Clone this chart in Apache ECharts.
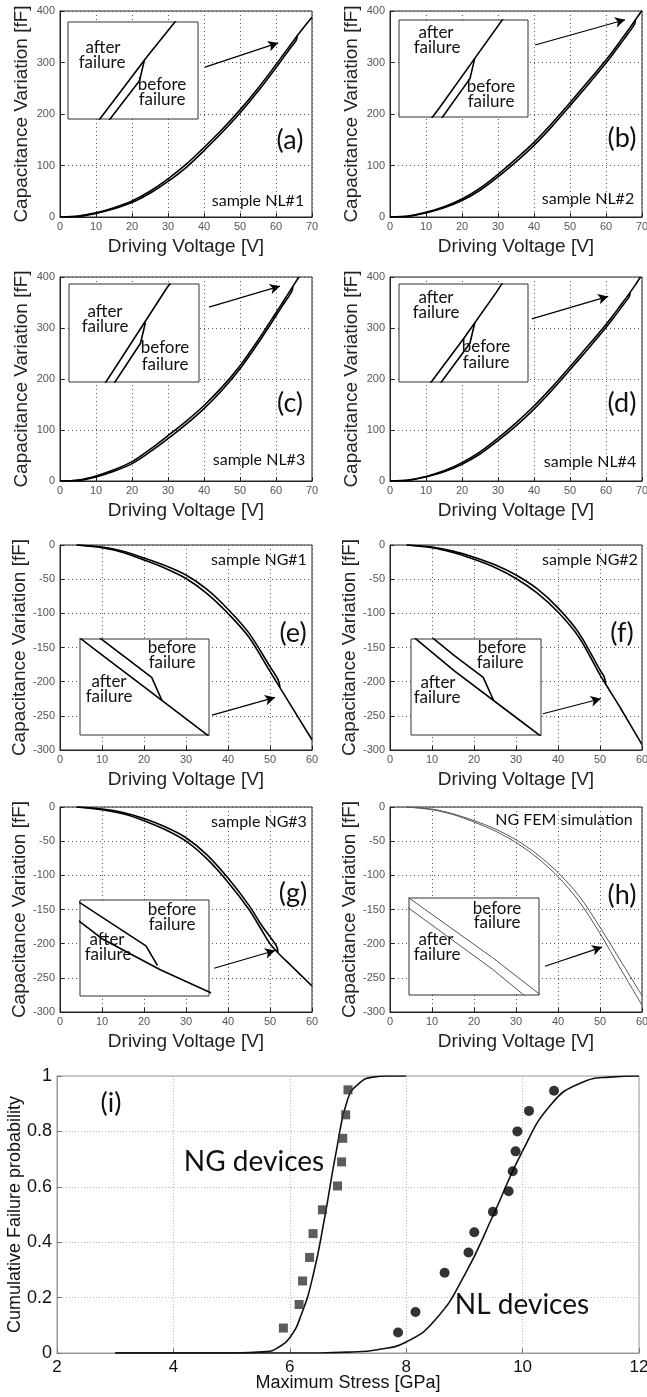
<!DOCTYPE html>
<html><head><meta charset="utf-8">
<script src="https://cdn.jsdelivr.net/npm/echarts@6/dist/echarts.min.js"></script>
<style>html,body{margin:0;padding:0;background:#fff}#c{width:647px;height:1397px}</style>
</head><body><div id="c"></div>
<script>
// ---------------- DATA ([V, fF] pairs) ----------------
const nl1After  = [[0,0],[5,2],[10,8],[15,18],[20,31],[25,50],[30,74],[35,102],[40,135],[45,170],[50,208],[55,250],[60,296],[62,315],[64,334],[66,353],[68,371],[70,388]];
const nl1Before = [[0,0],[5,1],[10,7],[15,16],[20,28],[25,46],[30,69],[35,96],[40,129],[45,164],[50,202],[55,244],[60,290],[62,309],[64,328],[65.6,343],[65.9,352]];
const nl2After  = [[0,0],[5,2],[10,9],[15,20],[20,35],[25,56],[30,83],[35,113],[40,145],[45,182],[50,222],[55,263],[60,305],[62,323],[64,342],[66,361],[68,381],[70,401]];
const nl2Before = [[0,0],[5,1],[10,8],[15,18],[20,32],[25,52],[30,78],[35,107],[40,139],[45,176],[50,216],[55,257],[60,299],[62,317],[64,336],[66,355],[67.9,374],[68.2,383]];
const nl3After  = [[0,0],[5,2],[10,10],[15,22],[20,38],[25,62],[30,89],[35,117],[40,148],[45,184],[50,226],[55,276],[60,330],[62,352],[64,374],[66,396],[66.4,400]];
const nl3Before = [[0,0],[5,1],[10,8],[15,19],[20,34],[25,57],[30,83],[35,111],[40,142],[45,178],[50,220],[55,270],[60,324],[62,346],[64.4,372],[64.7,381]];
const nl4After  = [[0,0],[5,2],[10,9],[15,20],[20,36],[25,57],[30,84],[35,114],[40,147],[45,184],[50,224],[55,265],[60,307],[62,325],[64,344],[66,363],[68,383],[69.6,400]];
const nl4Before = [[0,0],[5,1],[10,8],[15,18],[20,33],[25,53],[30,79],[35,108],[40,141],[45,178],[50,218],[55,259],[60,301],[62,319],[64,338],[66.4,361],[66.7,370]];
const ng1After  = [[4,0],[10,-4],[15,-11],[20,-22],[25,-34],[30,-49],[35,-71],[40,-100],[45,-135],[50,-185],[52,-205],[55,-235],[60,-285]];
const ng1Before = [[4,0],[10,-3],[15,-9],[20,-19],[25,-30],[30,-44],[35,-65],[40,-94],[45,-129],[50,-178],[52,-198],[52.36,-208.6]];
const ng2After  = [[4,0],[10,-4],[15,-11],[20,-21],[25,-33],[30,-49],[35,-70],[40,-98],[45,-135],[50,-190],[52,-210],[55,-240],[60,-292]];
const ng2Before = [[4,0],[10,-3],[15,-9],[20,-18],[25,-29],[30,-44],[35,-64],[40,-92],[45,-129],[50,-183],[51,-193],[51.36,-203.6]];
const ng3After  = [[4,0],[10,-4],[15,-10],[20,-20],[25,-33],[30,-50],[35,-76],[40,-110],[45,-150],[48,-180],[50,-200],[52,-214],[55,-232],[60,-262]];
const ng3Before = [[4,0],[10,-3],[15,-8],[20,-17],[25,-29],[30,-45],[35,-70],[40,-104],[45,-144],[48,-173],[51.5,-203],[51.9,-212]];
const femAfter  = [[4,0],[10,-4],[15,-11],[20,-22],[25,-35],[30,-52],[35,-74],[40,-102],[45,-138],[50,-185],[55,-238],[60,-290]];
const femBefore = [[4,0],[10,-3],[15,-10],[20,-20],[25,-32],[30,-48],[35,-69],[40,-96],[45,-130],[50,-176],[55,-226],[60,-276]];

// panel (i): Weibull data and fitted curves
const ngStress = [5.89, 6.16, 6.22, 6.34, 6.40, 6.56, 6.82, 6.89, 6.91, 6.96, 7.00];
const ngProb   = [0.09, 0.175, 0.26, 0.345, 0.431, 0.517, 0.603, 0.69, 0.775, 0.86, 0.95];
const nlStress = [7.86, 8.16, 8.66, 9.07, 9.17, 9.49, 9.76, 9.83, 9.88, 9.91, 10.11, 10.54];
const nlProb   = [0.074, 0.148, 0.29, 0.363, 0.436, 0.51, 0.584, 0.656, 0.728, 0.80, 0.874, 0.947];
const ngFitStress = [3, 5.0, 5.6, 5.8, 6.0, 6.2, 6.4, 6.6, 6.8, 7.0, 7.2, 7.4, 7.7, 8.0];
const ngFitProb   = [0, 0, 0.005, 0.02, 0.055, 0.14, 0.28, 0.49, 0.73, 0.92, 0.975, 0.995, 1, 1];
const nlFitStress = [3, 6.5, 7.0, 7.5, 8.0, 8.5, 9.0, 9.5, 10.0, 10.5, 11.0, 11.5, 12];
const nlFitProb   = [0, 0, 0.003, 0.012, 0.04, 0.12, 0.28, 0.5, 0.73, 0.9, 0.975, 0.996, 1];

// ---------------- LAYOUT ----------------
const tickFont = "'Liberation Sans Narrow','Liberation Sans',Arial,sans-serif";
const nameFont = "'Liberation Sans',Arial,sans-serif";
const noteFont = "Lato,'Open Sans',sans-serif";

const panels = [
 {after:nl1After, before:nl1Before, rect:[60,11,252,206], xr:[0,70,10], yr:[0,400,100],
  inset:[68,22,130,97], ix:[61.2,69.2], iy:[326,369], arrow:[[40.3,291],[60.6,338]],
  tag:'(a)', tagPos:[290,140], note:'sample NL#1', notePos:[258,201],
  texts:[['after',103,48],['failure',102,63],['before',162,85],['failure',162,100]]},
 {after:nl2After, before:nl2Before, rect:[390,11,252,206], xr:[0,70,10], yr:[0,400,100],
  inset:[399,20,129,97], ix:[63.5,71.5], iy:[357,400], arrow:[[40.3,334],[65.3,383]],
  tag:'(b)', tagPos:[622,138], note:'sample NL#2', notePos:[588,199],
  texts:[['after',436,33],['failure',437,48],['before',491,87],['failure',491,102]]},
 {after:nl3After, before:nl3Before, rect:[60,277,252,204], xr:[0,70,10], yr:[0,400,100],
  inset:[69,284,130,98], ix:[60,68], iy:[355,398], arrow:[[41.4,341],[61.1,382]],
  tag:'(c)', tagPos:[290,403], note:'sample NL#3', notePos:[259,460],
  texts:[['after',105,312],['failure',105,327],['before',165,348],['failure',165,365]]},
 {after:nl4After, before:nl4Before, rect:[390,277,252,204], xr:[0,70,10], yr:[0,400,100],
  inset:[399,284,129,98], ix:[62,70], iy:[344,387], arrow:[[39.4,318],[60.6,362]],
  tag:'(d)', tagPos:[622,403], note:'sample NL#4', notePos:[590,462],
  texts:[['after',436,298],['failure',436,313],['before',486,347],['failure',486,363]]},
 {after:ng1After, before:ng1Before, rect:[60,545,252,205], xr:[0,60,10], yr:[-300,0,50],
  inset:[80,639,129,96], ix:[49.5,54], iy:[-224.4,-180.4], arrow:[[36.2,-249],[51.2,-223]],
  tag:'(e)', tagPos:[293,633], note:'sample NG#1', notePos:[259,560],
  texts:[['before',172,648],['failure',172,663],['after',109,682],['failure',109,697]]},
 {after:ng2After, before:ng2Before, rect:[390,545,252,205], xr:[0,60,10], yr:[-300,0,50],
  inset:[411,639,130,96], ix:[48.5,53], iy:[-219.4,-175.4], arrow:[[36.4,-247],[50.2,-225]],
  tag:'(f)', tagPos:[622,633], note:'sample NG#2', notePos:[590,560],
  texts:[['before',502,648],['failure',500,663],['after',438,683],['failure',437,698]]},
 {after:ng3After, before:ng3Before, rect:[60,807,252,205], xr:[0,60,10], yr:[-300,0,50],
  inset:[80,900,129,96], ix:[49.2,53.7], iy:[-226,-182], arrow:[[36.7,-236],[51.2,-210]],
  tag:'(g)', tagPos:[293,893], note:'sample NG#3', notePos:[259,822],
  texts:[['before',172,910],['failure',172,925],['after',107,940],['failure',108,955]]},
 {after:femAfter, before:femBefore, rect:[390,807,252,205], xr:[0,60,10], yr:[-300,0,50],
  inset:[409,898,130,97], ix:[45,52.8], iy:[-205,-130], arrow:[[36.9,-233],[50.5,-205]],
  tag:'(h)', tagPos:[622,895], note:'NG FEM simulation', notePos:[564,820], thin:true,
  texts:[['before',497,909],['failure',497,923],['after',436,940],['failure',437,955]]}
];

const grids=[], xAxes=[], yAxes=[], series=[], graphics=[];
function txt(t,x,y,size,family,color){
  graphics.push({type:'text', x:x, y:y, z:10, silent:true,
    style:{text:t, fontSize:size, fontFamily:family, fill:color||'#111', align:'center', verticalAlign:'middle'}});
}
panels.forEach(p=>{
  const gi = grids.length;
  grids.push({left:p.rect[0], top:p.rect[1], width:p.rect[2], height:p.rect[3], show:true,
    borderColor:'#222', borderWidth:1, containLabel:false, outerBoundsMode:'none'});
  xAxes.push({gridIndex:gi, type:'value', min:p.xr[0], max:p.xr[1], interval:p.xr[2],
    name:'Driving Voltage [V]', nameLocation:'middle', nameGap:20,
    nameTextStyle:{fontFamily:nameFont, fontSize:19, color:'#222'},
    axisLine:{show:true, onZero:false, lineStyle:{color:'#222', width:1}},
    axisTick:{show:true, inside:true, length:4, lineStyle:{color:'#222'}},
    axisLabel:{fontFamily:tickFont, fontSize:11, color:'#555', margin:4, showMinLabel:true, showMaxLabel:true},
    splitLine:{show:true, lineStyle:{type:[1,3], color:'#555', width:1}}});
  yAxes.push({gridIndex:gi, type:'value', min:p.yr[0], max:p.yr[1], interval:p.yr[2],
    name:'Capacitance Variation [fF]', nameLocation:'middle', nameGap:29, nameRotate:90,
    nameTextStyle:{fontFamily:nameFont, fontSize:19, color:'#222'},
    axisLine:{show:true, onZero:false, lineStyle:{color:'#222', width:1}},
    axisTick:{show:true, inside:true, length:4, lineStyle:{color:'#222'}},
    axisLabel:{fontFamily:tickFont, fontSize:11, color:'#555', margin:5, showMinLabel:true, showMaxLabel:true},
    splitLine:{show:true, lineStyle:{type:[1,3], color:'#555', width:1}}});
  const ii = grids.length;
  grids.push({left:p.inset[0], top:p.inset[1], width:p.inset[2], height:p.inset[3], show:true,
    borderColor:'#333', borderWidth:1, backgroundColor:'#fff', z:1, containLabel:false, outerBoundsMode:'none'});
  xAxes.push({gridIndex:ii, type:'value', min:p.ix[0], max:p.ix[1], show:false});
  yAxes.push({gridIndex:ii, type:'value', min:p.iy[0], max:p.iy[1], show:false});
  const col = p.thin ? '#555' : '#000';
  const w = p.thin ? 1 : 1.6;
  const base = {type:'line', symbol:'none', silent:true, animation:false, clip:true};
  series.push(Object.assign({}, base, {xAxisIndex:gi, yAxisIndex:gi, data:p.after, z:2, smooth:0.3,
    lineStyle:{color:col, width:w},
    markLine:{silent:true, animation:false, symbol:['none','arrow'], symbolSize:[8,10],
      lineStyle:{color:'#000', width:1.2, type:'solid'}, label:{show:false},
      data:[[{coord:p.arrow[0]},{coord:p.arrow[1]}]]}}));
  series.push(Object.assign({}, base, {xAxisIndex:gi, yAxisIndex:gi, data:p.before, z:2, smooth:0.3, lineStyle:{color:col, width:w}}));
  series.push(Object.assign({}, base, {xAxisIndex:ii, yAxisIndex:ii, data:p.after, z:4, lineStyle:{color:col, width:w}}));
  series.push(Object.assign({}, base, {xAxisIndex:ii, yAxisIndex:ii, data:p.before, z:4, lineStyle:{color:col, width:w}}));
  txt(p.tag, p.tagPos[0], p.tagPos[1], 27, noteFont, '#111');
  txt(p.note, p.notePos[0], p.notePos[1], 16, noteFont, '#111');
  p.texts.forEach(t=>txt(t[0], t[1], t[2], 17, noteFont, '#111'));
});

// panel (i)
const gi = grids.length;
grids.push({left:57, top:1076, width:582, height:277, show:true, borderColor:'#999', borderWidth:1,
  containLabel:false, outerBoundsMode:'none'});
xAxes.push({gridIndex:gi, type:'value', min:2, max:12, interval:2,
  name:'Maximum Stress [GPa]', nameLocation:'middle', nameGap:21, nameMoveOverlap:false,
  nameTextStyle:{fontFamily:nameFont, fontSize:18, color:'#111'},
  axisLine:{show:true, onZero:false, lineStyle:{color:'#999'}},
  axisTick:{show:true, inside:true, length:5, lineStyle:{color:'#777'}},
  axisLabel:{fontFamily:tickFont, fontSize:17, color:'#111', margin:6, showMinLabel:true, showMaxLabel:true},
  splitLine:{show:true, lineStyle:{type:[1,2], color:'#bbb', width:1}}});
yAxes.push({gridIndex:gi, type:'value', min:0, max:1, interval:0.2,
  name:'Cumulative Failure probability', nameLocation:'middle', nameGap:33, nameRotate:90, nameMoveOverlap:false,
  nameTextStyle:{fontFamily:nameFont, fontSize:18, color:'#111'},
  axisLine:{show:true, onZero:false, lineStyle:{color:'#999'}},
  axisTick:{show:true, inside:true, length:5, lineStyle:{color:'#777'}},
  axisLabel:{fontFamily:tickFont, fontSize:18, color:'#111', margin:5, showMinLabel:true, showMaxLabel:true},
  splitLine:{show:true, lineStyle:{type:[1,2], color:'#bbb', width:1}}});
const zip = (a,b)=>a.map((v,i)=>[v,b[i]]);
series.push({type:'line', xAxisIndex:gi, yAxisIndex:gi, data:zip(ngFitStress, ngFitProb), symbol:'none',
  smooth:0.5, lineStyle:{color:'#111', width:1.6}, silent:true, animation:false});
series.push({type:'line', xAxisIndex:gi, yAxisIndex:gi, data:zip(nlFitStress, nlFitProb), symbol:'none',
  smooth:0.5, lineStyle:{color:'#111', width:1.6}, silent:true, animation:false});
series.push({type:'scatter', xAxisIndex:gi, yAxisIndex:gi, data:zip(ngStress, ngProb), symbol:'rect',
  symbolSize:9, itemStyle:{color:'#333'}, silent:true, animation:false, z:5});
series.push({type:'scatter', xAxisIndex:gi, yAxisIndex:gi, data:zip(nlStress, nlProb), symbol:'circle',
  symbolSize:10, itemStyle:{color:'#000'}, silent:true, animation:false, z:5});
txt('(i)', 111, 1103, 27, noteFont, '#111');
txt('NG devices', 254, 1162, 28, noteFont, '#111');
txt('NL devices', 522, 1305, 28, noteFont, '#111');

const chart = echarts.init(document.getElementById('c'), null, {renderer:'canvas'});
chart.setOption({animation:false, backgroundColor:'#fff', grid:grids, xAxis:xAxes, yAxis:yAxes, series:series, graphic:graphics});
</script></body></html>
